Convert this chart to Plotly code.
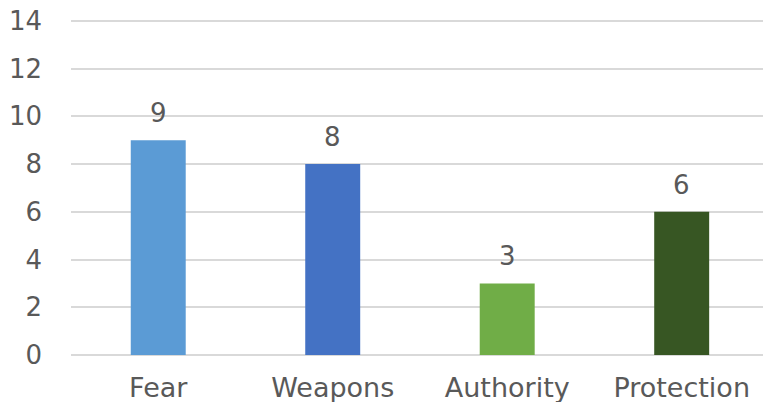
import plotly.graph_objects as go

categories = ["Fear", "Weapons", "Authority", "Protection"]
values = [9, 8, 3, 6]
colors = ["#5B9BD5", "#4472C4", "#70AD47", "#375623"]
y_ticks = [0, 2, 4, 6, 8, 10, 12, 14]

font_family = "DejaVu Sans, Liberation Sans, Arial, sans-serif"
text_color = "#595959"

fig = go.Figure()
fig.add_trace(go.Bar(
    x=categories, y=values, marker=dict(color=colors, line=dict(width=0)),
    width=0.315, hoverinfo="skip",
))
for c, v in zip(categories, values):
    fig.add_annotation(x=c, y=v, text=str(v), showarrow=False, yanchor="bottom",
                       yshift=10, font=dict(size=26, color=text_color, family=font_family))

fig.update_layout(
    width=763, height=402,
    margin=dict(l=71, r=0, t=16, b=47),
    paper_bgcolor="white", plot_bgcolor="white",
    showlegend=False,
    font=dict(family=font_family, size=26, color=text_color),
    xaxis=dict(range=[-0.5, 3.466], showgrid=False, showline=False, zeroline=False,
               ticks="", tickfont=dict(size=27, color=text_color), ticklabelstandoff=14,
               automargin=False),
    yaxis=dict(range=[0, 14.2], tickvals=y_ticks, showgrid=True, gridcolor="#D9D9D9",
               gridwidth=1.5, zeroline=True, zerolinecolor="#D9D9D9", zerolinewidth=1.5,
               showline=False, ticks="", tickfont=dict(size=26, color=text_color),
               ticklabelstandoff=28, automargin=False),
)

# remove the default page margin so the figure fills the 763x402 window exactly
fig.write_html("out.html", config={"displayModeBar": False},
               post_script="document.body.style.margin='0';")
